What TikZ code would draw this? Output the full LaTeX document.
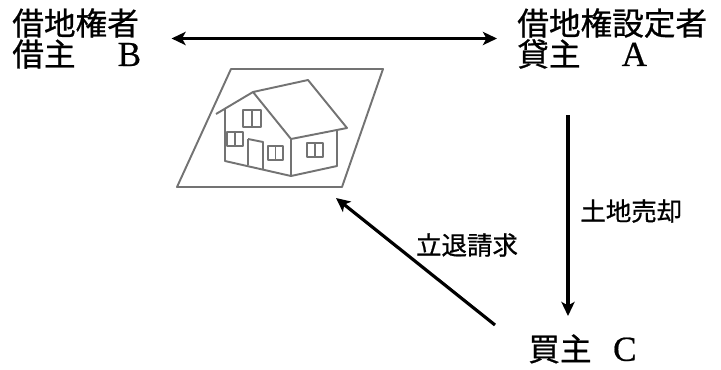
\documentclass[tikz,border=0pt]{standalone}
\usepackage{fontspec}
\newfontfamily\jp[FakeBold=0.8]{Noto Sans CJK JP}
\newfontfamily\lat[FakeBold=0.6]{Liberation Serif}
\usetikzlibrary{positioning,arrows.meta,calc}

% one full-width letter in a serif face
\newcommand{\zlet}[1]{\makebox[1em]{\lat\fontsize{20}{20}\selectfont #1}}

\begin{document}
\begin{tikzpicture}[x=0.02cm, y=-0.02cm,
  party/.style={inner sep=0pt, anchor=north west, align=left,
    font=\jp\fontsize{18}{17.6}\selectfont},
  act/.style={inner sep=0pt, font=\jp\fontsize{14.5}{17}\selectfont},
  tip/.tip={Stealth[length=8pt,width=7.5pt,inset=2pt]},
  arr/.style={line width=1.8pt, -tip},
  house/.style={draw=black!55, line width=1.1pt, line join=round}]

\useasboundingbox (0,0) rectangle (721,369);

% The three parties
\node[party] (B) at (12,8) {借地権者\\借主\hspace{1.2em}\zlet{B}};
\node[party] (A) at (517,8) {借地権設定者\\貸主\hspace{1.2em}\zlet{A}};
\node[party] (C) at (528,334) {買主\hspace{0.55em}\zlet{C}};

% Lease between B and A
\draw[arr, tip-tip, shorten <=0.52cm, shorten >=0.4cm]
  (B.east) -- (B.east -| A.west);

% Plot of land (parallelogram)
\coordinate (L1) at (231,69);
\coordinate (L2) at (383,69);
\coordinate (L3) at (342,187);
\coordinate (L4) at (177,187);
\draw[house] (L1) -- (L2) -- (L3) -- (L4) -- cycle;

% House on the plot: roof
\draw[house] (216,114) -- (253,92) -- (291,139)
             (253,92) -- (308,80) -- (347,128) -- (291,139);
% walls
\draw[house] (225,109) -- (225,161) -- (291,176) -- (337,166) -- (337,131);
\draw[house] (291,139) -- (291,176);
% windows and door
\draw[house] (243,110) rectangle (261,127) (252,110) -- (252,127);
\draw[house] (227,132) rectangle (243,146) (235,132) -- (235,146);
\draw[house] (248,139) -- (263,142) -- (263,169) (248,139) -- (248,165);
\draw[house] (268,146) rectangle (283,160) (275.5,146) -- (275.5,160);
\draw[house] (307,143) rectangle (323,157) (315,143) -- (315,157);

% Sale of the land to C
\coordinate (sell a) at (568,115);
\coordinate (sell c) at (568,316);
\draw[arr] (sell a) -- (sell c);
\node[act, anchor=west] (sale) at (580,211) {土地売却};

% Eviction claim from C
\coordinate (claim) at (495,325);
\draw[arr] (claim) -- ([shift={(-6,11)}]L3);
\node[act] (evict) at (467,245) {立退請求};

\end{tikzpicture}
\end{document}
